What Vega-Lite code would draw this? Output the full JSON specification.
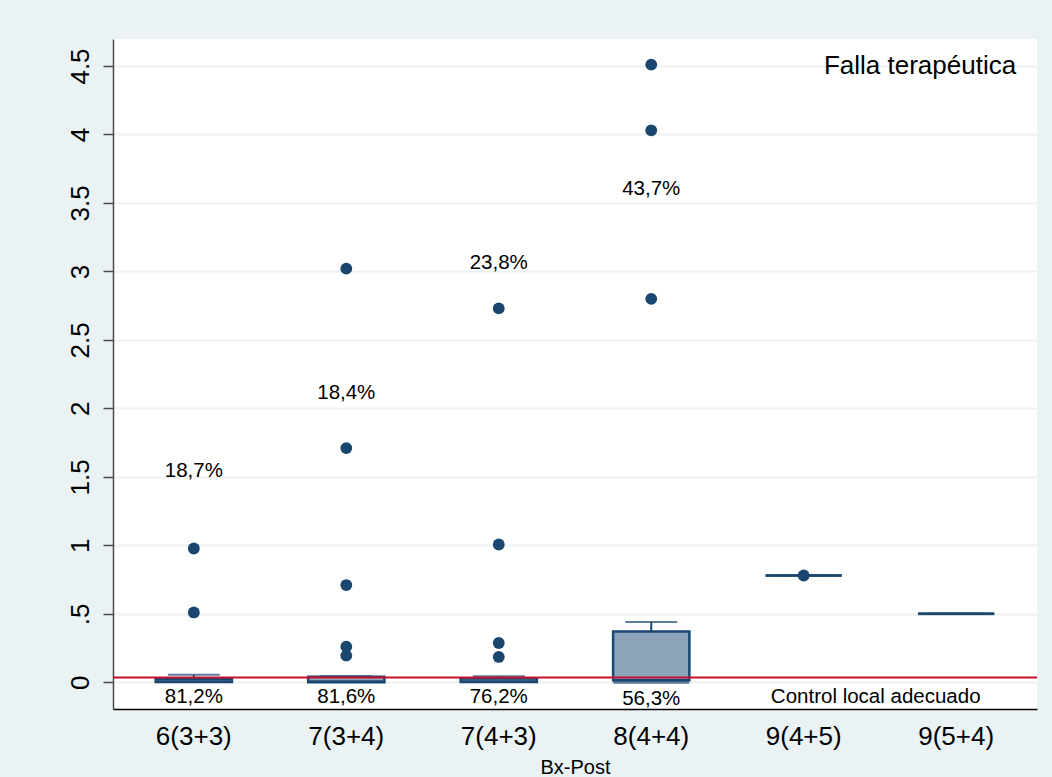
{
  "$schema": "https://vega.github.io/schema/vega-lite/v6.json",
  "width": 924,
  "height": 670,
  "autosize": {"type": "none"},
  "padding": {"left": 113, "top": 39, "right": 15, "bottom": 68},
  "background": "#EAF2F3",
  "config": {
    "font": "Liberation Sans",
    "view": {"stroke": null, "fill": "#FFFFFF"}
  },
  "datasets": {
    "cajas": [
      {"grupo": "6(3+3)", "minimo": 0, "q1": 0.002, "mediana": 0.005, "q3": 0.025, "maximo": 0.055},
      {"grupo": "7(3+4)", "minimo": 0, "q1": 0, "mediana": 0.005, "q3": 0.04, "maximo": 0.045},
      {"grupo": "7(4+3)", "minimo": 0, "q1": 0.002, "mediana": 0.005, "q3": 0.027, "maximo": 0.045},
      {"grupo": "8(4+4)", "minimo": 0, "q1": 0.015, "mediana": 0.0, "q3": 0.37, "maximo": 0.44},
      {"grupo": "9(4+5)", "minimo": 0.78, "q1": 0.78, "mediana": 0.78, "q3": 0.78, "maximo": 0.78},
      {"grupo": "9(5+4)", "minimo": 0.5, "q1": 0.5, "mediana": 0.5, "q3": 0.5, "maximo": 0.5}
    ],
    "atipicos": [
      {"grupo": "6(3+3)", "valor": 0.977},
      {"grupo": "6(3+3)", "valor": 0.51},
      {"grupo": "7(3+4)", "valor": 3.02},
      {"grupo": "7(3+4)", "valor": 1.71},
      {"grupo": "7(3+4)", "valor": 0.71},
      {"grupo": "7(3+4)", "valor": 0.26},
      {"grupo": "7(3+4)", "valor": 0.195},
      {"grupo": "7(4+3)", "valor": 2.73},
      {"grupo": "7(4+3)", "valor": 1.006},
      {"grupo": "7(4+3)", "valor": 0.287},
      {"grupo": "7(4+3)", "valor": 0.185},
      {"grupo": "8(4+4)", "valor": 4.51},
      {"grupo": "8(4+4)", "valor": 4.03},
      {"grupo": "8(4+4)", "valor": 2.8},
      {"grupo": "9(4+5)", "valor": 0.78}
    ],
    "porcentajes": [
      {"grupo": "6(3+3)", "valor": 1.54, "texto": "18,7%"},
      {"grupo": "7(3+4)", "valor": 2.11, "texto": "18,4%"},
      {"grupo": "7(4+3)", "valor": 3.06, "texto": "23,8%"},
      {"grupo": "8(4+4)", "valor": 3.6, "texto": "43,7%"},
      {"grupo": "6(3+3)", "valor": -0.11, "texto": "81,2%"},
      {"grupo": "7(3+4)", "valor": -0.11, "texto": "81,6%"},
      {"grupo": "7(4+3)", "valor": -0.11, "texto": "76,2%"},
      {"grupo": "8(4+4)", "valor": -0.12, "texto": "56,3%"}
    ],
    "umbral": [{"valor": 0.035}]
  },
  "encoding": {
    "x": {
      "field": "grupo",
      "type": "nominal",
      "sort": ["6(3+3)", "7(3+4)", "7(4+3)", "8(4+4)", "9(4+5)", "9(5+4)"],
      "scale": {"domain": ["6(3+3)", "7(3+4)", "7(4+3)", "8(4+4)", "9(4+5)", "9(5+4)"], "paddingInner": 0, "paddingOuter": 0.03},
      "axis": {
        "title": "Bx-Post",
        "titleFontSize": 20,
        "titleFontWeight": "normal",
        "titleColor": "#000000",
        "titlePadding": 8,
        "labelAngle": 0,
        "labelFontSize": 26,
        "labelColor": "#000000",
        "labelPadding": 14,
        "ticks": false,
        "domainColor": "#000000",
        "domainWidth": 1.5,
        "grid": false
      }
    }
  },
  "layer": [
    {
      "data": {"name": "cajas"},
      "mark": {"type": "rule", "color": "#1A476F", "strokeWidth": 2},
      "encoding": {
        "y": {
          "field": "q3",
          "type": "quantitative",
          "scale": {"domain": [-0.195, 4.697], "nice": false, "zero": false},
          "axis": {
            "title": null,
            "values": [0, 0.5, 1, 1.5, 2, 2.5, 3, 3.5, 4, 4.5],
            "labelExpr": "datum.value == 0.5 ? '.5' : format(datum.value, '~g')",
            "labelAngle": 270,
            "labelAlign": "center",
            "labelBaseline": "bottom",
            "labelFontSize": 26,
            "labelColor": "#000000",
            "labelPadding": 10,
            "tickSize": 10,
            "tickColor": "#4A4A4A",
            "tickWidth": 1.5,
            "domainColor": "#4A4A4A",
            "domainWidth": 1.5,
            "grid": true,
            "gridColor": "#EAF2F3",
            "gridWidth": 2
          }
        },
        "y2": {"field": "maximo"}
      }
    },
    {
      "data": {"name": "cajas"},
      "mark": {"type": "tick", "color": "#1A476F", "thickness": 2, "size": 52},
      "encoding": {"y": {"field": "maximo", "type": "quantitative"}}
    },
    {
      "data": {"name": "cajas"},
      "mark": {"type": "bar", "fill": "#8CA4BA", "stroke": "#1A476F", "strokeWidth": 2.5, "width": {"band": 0.5}},
      "encoding": {
        "y": {"field": "q1", "type": "quantitative"},
        "y2": {"field": "q3"}
      }
    },
    {
      "data": {"name": "umbral"},
      "mark": {"type": "rule", "color": "#C8102E", "strokeWidth": 2},
      "encoding": {
        "x": {"value": 0},
        "x2": {"value": 924},
        "y": {"field": "valor", "type": "quantitative"}
      }
    },
    {
      "data": {"name": "cajas"},
      "mark": {"type": "tick", "color": "#1A476F", "thickness": 3, "size": 76},
      "encoding": {"y": {"field": "mediana", "type": "quantitative"}}
    },
    {
      "data": {"name": "atipicos"},
      "mark": {"type": "circle", "color": "#1A476F", "opacity": 1, "size": 140},
      "encoding": {"y": {"field": "valor", "type": "quantitative"}}
    },
    {
      "data": {"name": "porcentajes"},
      "mark": {"type": "text", "fontSize": 20.5, "color": "#000000", "align": "center", "baseline": "middle"},
      "encoding": {
        "y": {"field": "valor", "type": "quantitative"},
        "text": {"field": "texto"}
      }
    },
    {
      "data": {"values": [{"grupo": "9(5+4)", "valor": 4.5, "texto": "Falla terapéutica"}]},
      "mark": {"type": "text", "fontSize": 26, "color": "#000000", "align": "right", "baseline": "middle", "dx": 60},
      "encoding": {
        "y": {"field": "valor", "type": "quantitative"},
        "text": {"field": "texto"}
      }
    },
    {
      "data": {"values": [{"grupo": "9(4+5)", "valor": -0.11, "texto": "Control local adecuado"}]},
      "mark": {"type": "text", "fontSize": 20.5, "color": "#000000", "align": "center", "baseline": "middle", "dx": 72},
      "encoding": {
        "y": {"field": "valor", "type": "quantitative"},
        "text": {"field": "texto"}
      }
    }
  ]
}
